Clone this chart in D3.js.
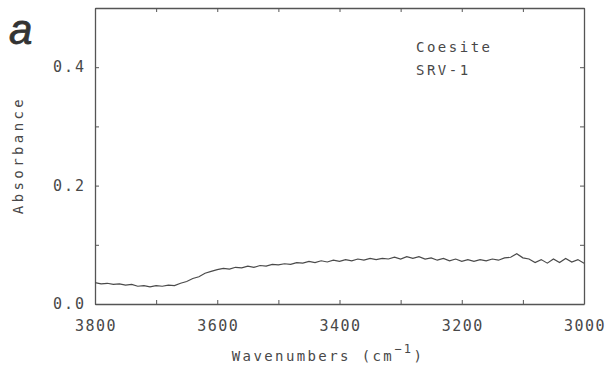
<!DOCTYPE html>
<meta charset="utf-8">
<script src="https://d3js.org/d3.v7.min.js"></script>
<style>
  body { margin: 0; background: #fff; }
  text { font-family: "DejaVu Sans Mono", monospace; fill: #484848; }
</style>
<body>
<div id="chart"></div>
<script>
// wavenumbers from 3800 down to 3000, every 10 cm-1
var wavenumbers = d3.range(3800, 2999, -10);
var absorbance = [
  0.036, 0.034, 0.035, 0.033, 0.034, 0.032, 0.033, 0.030, 0.031, 0.029,
  0.031, 0.030, 0.032, 0.031, 0.035, 0.038, 0.043, 0.046, 0.052, 0.055,
  0.058, 0.060, 0.059, 0.062, 0.061, 0.064, 0.062, 0.065, 0.064, 0.067,
  0.066, 0.068, 0.067, 0.070, 0.069, 0.072, 0.070, 0.073, 0.071, 0.074,
  0.072, 0.075, 0.073, 0.076, 0.074, 0.077, 0.075, 0.077, 0.076, 0.079,
  0.076, 0.080, 0.077, 0.080, 0.076, 0.078, 0.074, 0.077, 0.073, 0.076,
  0.072, 0.075, 0.072, 0.075, 0.073, 0.076, 0.074, 0.078, 0.079, 0.085,
  0.078, 0.076, 0.070, 0.075, 0.069, 0.076, 0.070, 0.077, 0.071, 0.075,
  0.069
];
var xTicks = [3800, 3600, 3400, 3200, 3000];
var yTicks = [0.0, 0.2, 0.4];
var labels = ["Coesite", "SRV-1"];

var W = 610, H = 372;
var margin = {top: 8, right: 26, bottom: 68, left: 95};
var width = W - margin.left - margin.right,
    height = H - margin.top - margin.bottom;

var svg = d3.select("#chart").append("svg")
  .attr("width", W).attr("height", H);
var g = svg.append("g")
  .attr("transform", "translate(" + margin.left + "," + margin.top + ")");

var x = d3.scaleLinear().domain([3800, 3000]).range([0, width]);
var y = d3.scaleLinear().domain([0, 0.5]).range([height, 0]);

var axisColor = "#555";

// frame with inward ticks on every side
function styleAxis(sel) {
  sel.select(".domain").attr("stroke", axisColor).attr("stroke-width", 1.3);
  sel.selectAll(".tick line").attr("stroke", axisColor);
}
g.append("g").attr("transform", "translate(0," + height + ")")
  .call(d3.axisBottom(x).tickValues(d3.range(3800, 2999, -100)).tickSize(-4).tickSizeOuter(0).tickFormat(""))
  .call(styleAxis);
g.append("g")
  .call(d3.axisTop(x).tickValues(d3.range(3800, 2999, -100)).tickSize(-4).tickSizeOuter(0).tickFormat(""))
  .call(styleAxis);
g.append("g")
  .call(d3.axisLeft(y).tickValues(d3.range(0, 0.51, 0.1)).tickSize(-4).tickSizeOuter(0).tickFormat(""))
  .call(styleAxis);
g.append("g").attr("transform", "translate(" + width + ",0)")
  .call(d3.axisRight(y).tickValues(d3.range(0, 0.51, 0.1)).tickSize(-4).tickSizeOuter(0).tickFormat(""))
  .call(styleAxis);

// tick labels
g.selectAll(".xlab").data(xTicks).enter().append("text")
  .attr("x", function(d) { return x(d) + 1; })
  .attr("y", height + 27)
  .attr("text-anchor", "middle")
  .style("font-size", "15px")
  .style("letter-spacing", "1.5px")
  .text(function(d) { return d; });

g.selectAll(".ylab").data(yTicks).enter().append("text")
  .attr("x", -9)
  .attr("y", function(d) { return y(d) + 5; })
  .attr("text-anchor", "end")
  .style("font-size", "15px")
  .style("letter-spacing", "2px")
  .text(function(d) { return d.toFixed(1); });

// curve
var data = wavenumbers.map(function(w, i) { return {w: w, a: absorbance[i]}; });
g.append("path").datum(data)
  .attr("fill", "none")
  .attr("stroke", "#4a4a4a")
  .attr("stroke-width", 1.2)
  .attr("d", d3.line().x(function(d) { return x(d.w); }).y(function(d) { return y(d.a); }));

// sample labels
g.selectAll(".lab").data(labels).enter().append("text")
  .attr("x", 321)
  .attr("y", function(d, i) { return 44 + i * 23; })
  .style("font-size", "14px")
  .style("letter-spacing", "2.5px")
  .text(function(d) { return d; });

// axis titles
svg.append("text")
  .attr("x", 328).attr("y", 361)
  .attr("text-anchor", "middle")
  .style("font-size", "14px")
  .style("letter-spacing", "2.4px")
  .html('Wavenumbers (cm<tspan dy="-8" font-size="12px">\u2212</tspan><tspan font-size="12px">1</tspan><tspan dy="8">)</tspan>');

svg.append("text")
  .attr("transform", "translate(23,155) rotate(-90)")
  .attr("text-anchor", "middle")
  .style("font-size", "14px")
  .style("letter-spacing", "3.4px")
  .text("Absorbance");

svg.append("text")
  .attr("x", 9).attr("y", 44)
  .style("font-family", "'Liberation Sans', sans-serif")
  .style("font-style", "italic")
  .style("font-size", "42px")
  .style("fill", "#333")
  .style("stroke", "#333")
  .style("stroke-width", "0.8px")
  .text("a");
</script>
</body>
